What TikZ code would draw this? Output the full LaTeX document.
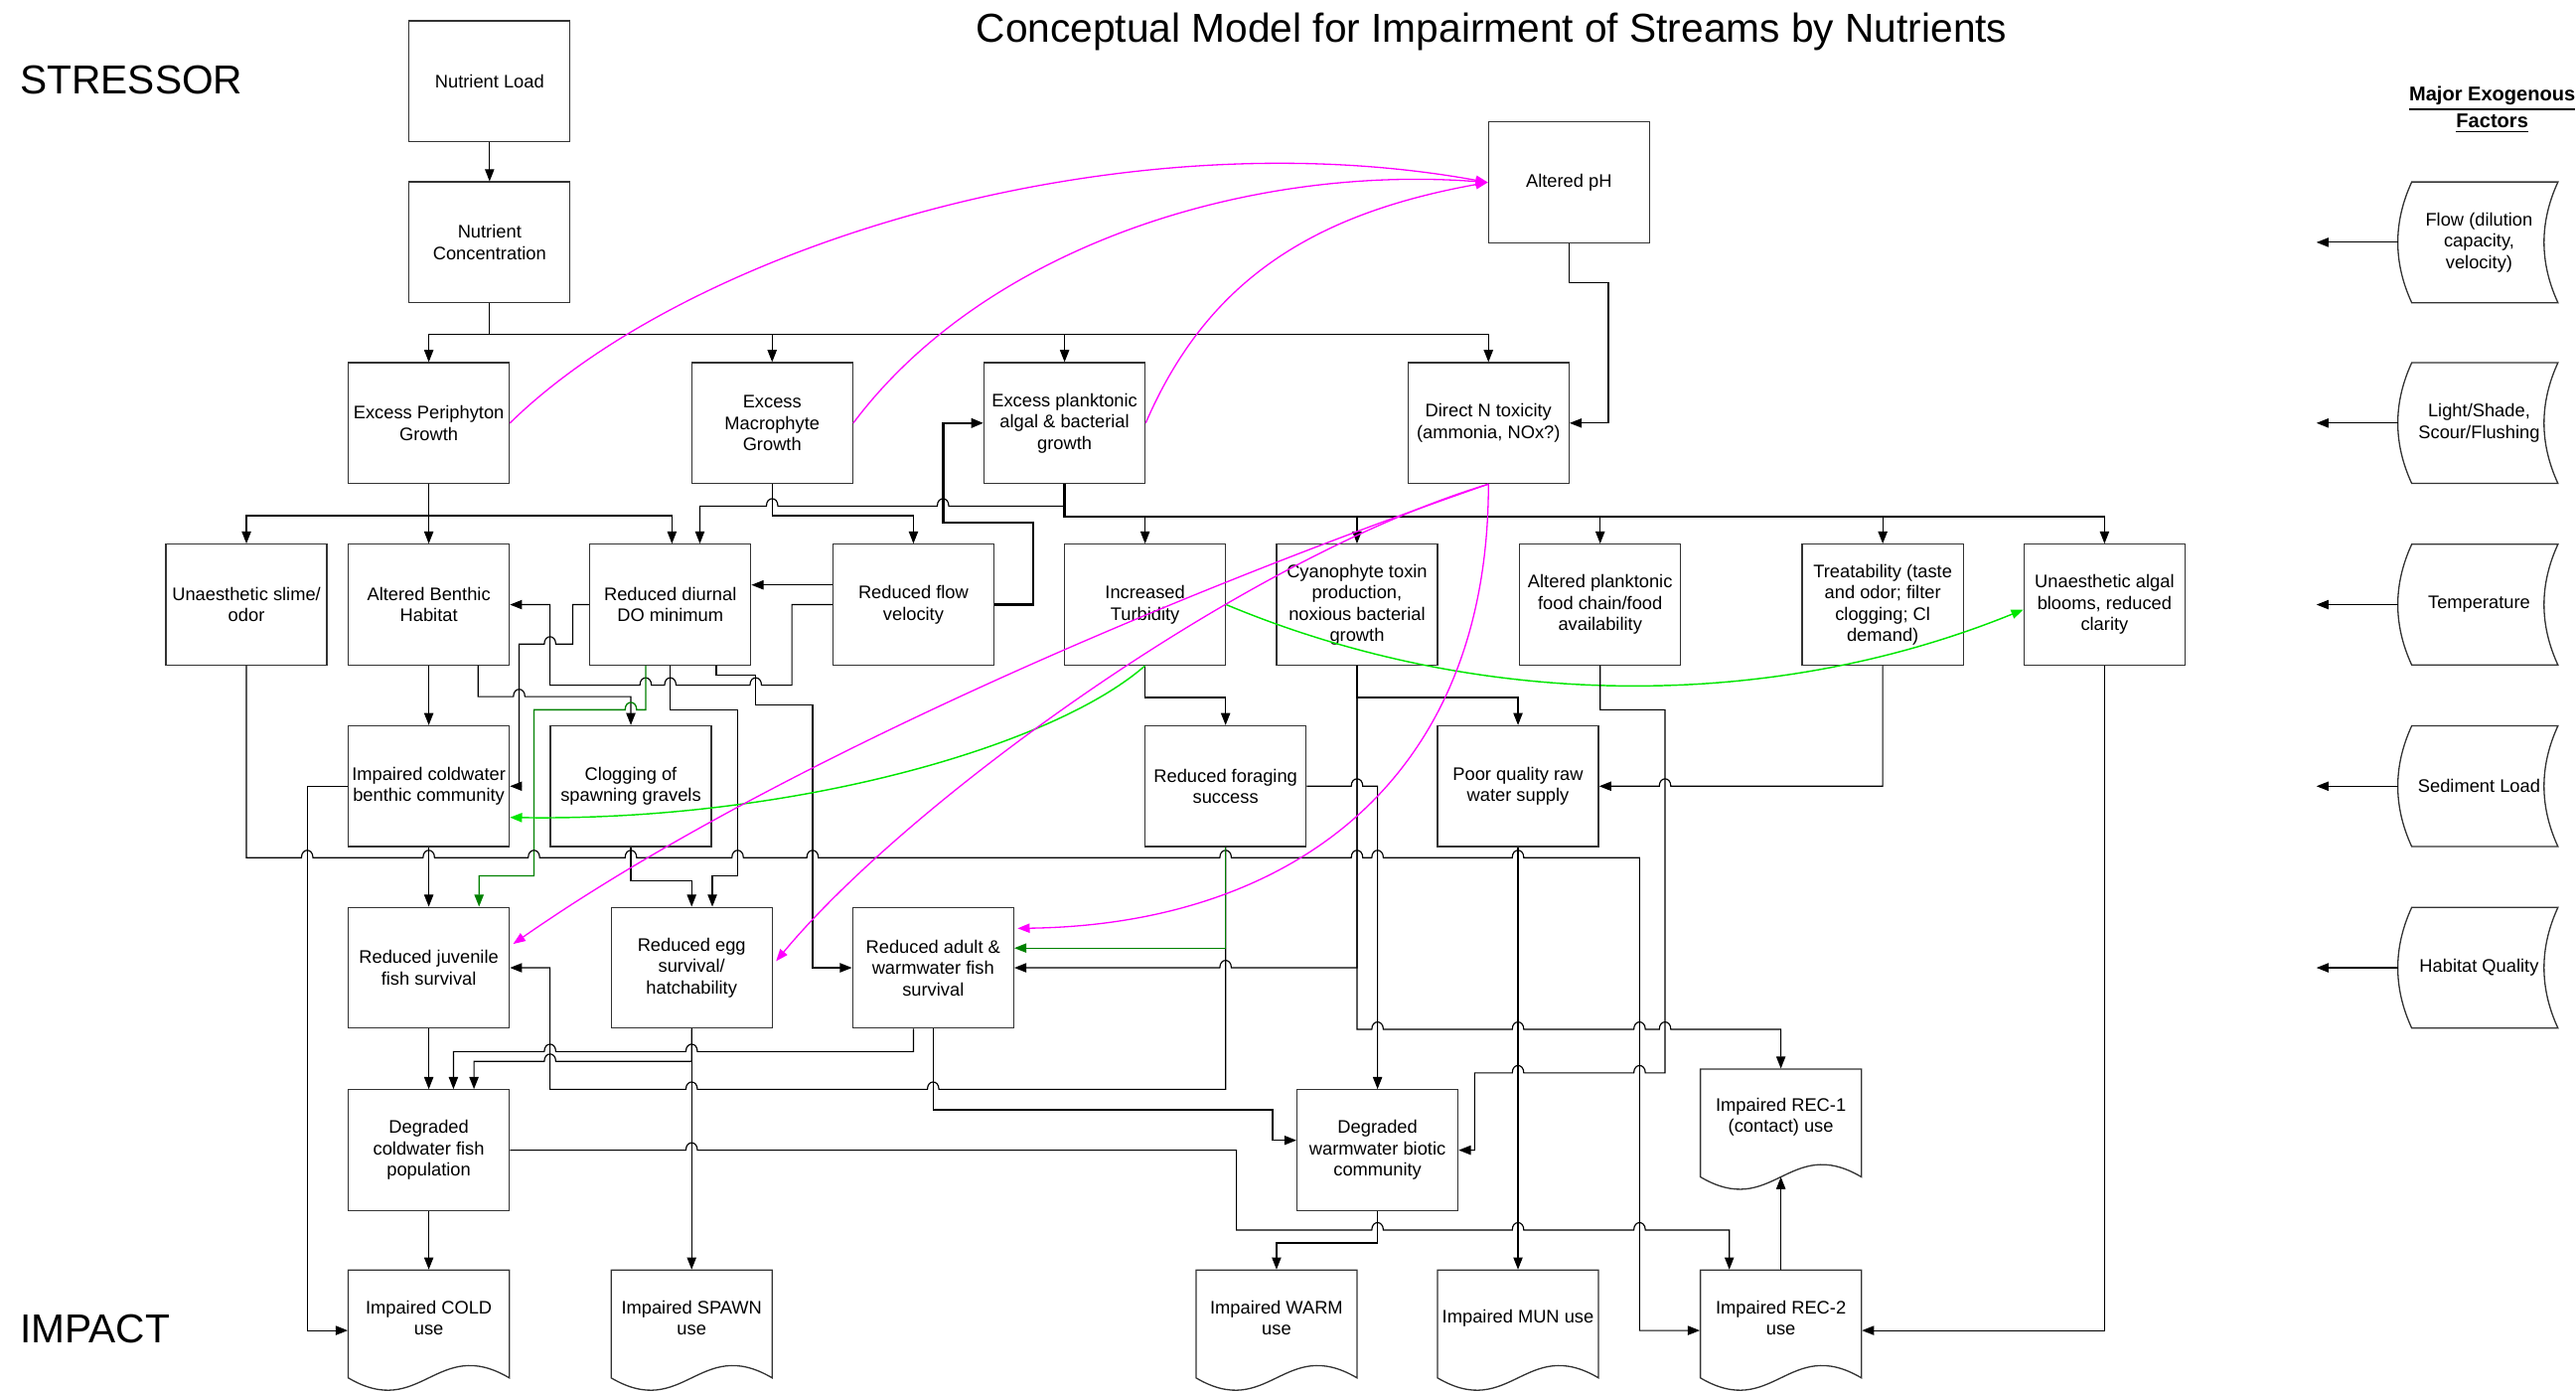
\documentclass[tikz,border=0pt]{standalone}
\usepackage{fontspec}
\setmainfont{Liberation Sans}
\usetikzlibrary{arrows.meta,calc}
\definecolor{mag}{RGB}{255,0,255}
\definecolor{ltg}{RGB}{0,230,0}
\definecolor{dkg}{RGB}{0,128,0}
\newcommand\hopr[2]{-- (#1-3.5,#2) .. controls (#1-3.5,#2-6) and (#1+3.5,#2-6) .. (#1+3.5,#2)}
\newcommand\hopl[2]{-- (#1+3.5,#2) .. controls (#1+3.5,#2-6) and (#1-3.5,#2-6) .. (#1-3.5,#2)}
\tikzset{
 boxsty/.style={draw=black!80, line width=0.45pt, minimum width=1.96cm, minimum height=1.47cm, inner sep=0.3pt, align=center, font=\fontsize{6.3}{7.4}\selectfont},
 docnode/.style={minimum width=1.96cm, minimum height=1.47cm, inner sep=0pt},
 txt/.style={align=center, inner sep=0pt, font=\fontsize{6.3}{7.4}\selectfont},
 shapeline/.style={draw=black!80, line width=0.45pt},
 conn/.style={draw=black, line width=0.4pt},
 arrc/.style={conn, -{Triangle[length=4.2pt,width=3.2pt]}},
 boldc/.style={arrc, line width=0.9pt},
 magc/.style={draw=mag, line width=0.45pt, -{Triangle[length=4.2pt,width=3.2pt]}},
 ltgc/.style={draw=ltg, line width=0.5pt, -{Triangle[length=4.2pt,width=3.2pt]}},
 dkgc/.style={draw=dkg, line width=0.45pt, -{Triangle[length=4.2pt,width=3.2pt]}},
}
% document shape: name, cx, top, text
\newcommand\docshape[4]{%
 \draw[shapeline] (#2-49,#3) -- (#2+49,#3) -- (#2+49,#3+65.6) .. controls (#2+49-44.1,#3+65.6-26) and (#2+49-53.9,#3+65.6+26) .. (#2-49,#3+65.6) -- cycle;
 \node[docnode] (#1) at (#2,#3+36.75) {};
 \node[txt] (#1-t) at (#2,#3+29) {#4};
 \coordinate (#1-b) at (#2,#3+65.6);
}
% exogenous factor: name, cy, text
\newcommand\exofactor[3]{%
 \draw[shapeline] (1468,#2-36.75) -- (1557,#2-36.75) .. controls (1545.7,#2-12.25) and (1545.7,#2+12.25) .. (1557,#2+36.75) -- (1468,#2+36.75) .. controls (1456.7,#2+12.25) and (1456.7,#2-12.25) .. (1468,#2-36.75) -- cycle;
 \node[txt] (#1) at (1509,#2) {#3};
 \coordinate (#1-l) at (1459.5,#2);
 \coordinate (#1-e) at (1410,#2);
 \draw[arrc] (#1-l) -- (#1-e);
}
\begin{document}
\begin{tikzpicture}[x=0.02cm,y=-0.02cm]
\useasboundingbox (0,0) rectangle (1568,847);

% titles
\node[anchor=base, font=\fontsize{14}{16}\selectfont, inner sep=0pt] (title) at (908,26) {Conceptual Model for Impairment of Streams by Nutrients};
\node[anchor=base west, font=\fontsize{14}{16}\selectfont, inner sep=0pt] (stressor) at (12,57) {STRESSOR};
\node[anchor=base west, font=\fontsize{14}{16}\selectfont, inner sep=0pt] (impact) at (12,817.5) {IMPACT};
\node[txt, font=\bfseries\fontsize{6.9}{7.6}\selectfont] (exohead) at (1517,67) {\underline{Major Exogenous}\\\underline{Factors}};

% boxes
\node[boxsty] (nl) at (298,49.5) {Nutrient Load};
\node[boxsty] (nc) at (298,147.5) {Nutrient\\Concentration};
\node[boxsty] (ph) at (955,111) {Altered pH};
\node[boxsty] (peri) at (261,257.5) {Excess Periphyton\\Growth};
\node[boxsty] (macro) at (470,257.5) {Excess\\Macrophyte\\Growth};
\node[boxsty] (plank) at (648,257.5) {Excess planktonic\\algal \& bacterial\\growth};
\node[boxsty] (dirn) at (906,257.5) {Direct N toxicity\\(ammonia, NOx?)};

\node[boxsty] (slime) at (150,368) {Unaesthetic slime/\\odor};
\node[boxsty] (benth) at (261,368) {Altered Benthic\\Habitat};
\node[boxsty] (domin) at (408,368) {Reduced diurnal\\DO minimum};
\node[boxsty] (flowv) at (556,368) {Reduced flow\\velocity};
\node[boxsty] (turb) at (697,368) {Increased\\Turbidity};
\node[boxsty] (cyano) at (826,368) {Cyanophyte toxin\\production,\\noxious bacterial\\growth};
\node[boxsty] (foodc) at (974,368) {Altered planktonic\\food chain/food\\availability};
\node[boxsty] (treat) at (1146,368) {Treatability (taste\\and odor; filter\\clogging; Cl\\demand)};
\node[boxsty] (bloom) at (1281,368) {Unaesthetic algal\\blooms, reduced\\clarity};

\node[boxsty] (icb) at (261,478.5) {Impaired coldwater\\benthic community};
\node[boxsty] (clog) at (384,478.5) {Clogging of\\spawning gravels};
\node[boxsty] (forag) at (746,478.5) {Reduced foraging\\success};
\node[boxsty] (raw) at (924,478.5) {Poor quality raw\\water supply};

\node[boxsty] (juv) at (261,589) {Reduced juvenile\\fish survival};
\node[boxsty] (egg) at (421,589) {Reduced egg\\survival/\\hatchability};
\node[boxsty] (adult) at (568,589) {Reduced adult \&\\warmwater fish\\survival};

\node[boxsty] (dcold) at (261,700) {Degraded\\coldwater fish\\population};
\node[boxsty] (dwarm) at (838.5,700) {Degraded\\warmwater biotic\\community};

\docshape{rec1}{1084}{650.7}{Impaired REC-1\\(contact) use}
\docshape{cold}{261}{773}{Impaired COLD\\use}
\docshape{spawn}{421}{773}{Impaired SPAWN\\use}
\docshape{warm}{777}{773}{Impaired WARM\\use}
\docshape{mun}{924}{773}{Impaired MUN use}
\docshape{rec2}{1084}{773}{Impaired REC-2\\use}

\exofactor{fflow}{147.5}{Flow (dilution\\capacity,\\velocity)}
\exofactor{flight}{257.5}{Light/Shade,\\Scour/Flushing}
\exofactor{ftemp}{368}{Temperature}
\exofactor{fsed}{478.5}{Sediment Load}
\exofactor{fhab}{589}{Habitat Quality}

% ---- connectors ----
\draw[arrc] (nl.south) -- (nc.north);
\foreach \t in {peri,macro,plank,dirn}
  \draw[arrc] (nc.south) |- ($(\t.north)+(0,-17)$) -- (\t.north);
\draw[arrc] (ph.south) -- (955,172) -- (979,172) -- (979,257.5) -- (dirn.east);

\draw[magc] (peri.east) .. controls (420,150) and (680,70) .. (ph.west);
\draw[magc] (macro.east) .. controls (600,150) and (760,100) .. (ph.west);
\draw[magc] (plank.east) .. controls (735,170) and (800,130) .. (ph.west);

\draw[arrc] (peri.south) -- (benth.north);
\draw[arrc] (peri.south) |- ($(slime.north)+(0,-17)$) -- (slime.north);
\draw[arrc] (peri.south) |- ($(domin.north)+(1,-17)$) -- ($(domin.north)+(1,0)$);

\draw[arrc] (plank.south) -- (648,308) \hopl{574}{308} \hopl{470}{308} -- (426,308) -- ($(domin.north)+(18,0)$);
\draw[arrc] (macro.south) |- ($(flowv.north)+(0,-17)$) -- (flowv.north);
\draw[boldc] (flowv.east) -- (629,368) -- (629,318) -- (574,318) -- (574,257.5) -- (plank.west);
\draw[arrc] ($(flowv.west)+(0,-12)$) -- ($(domin.east)+(0,-12)$);
\draw[arrc] (flowv.west) -- (482,368) -- (482,417) \hopl{460}{417} \hopl{408}{417} \hopl{393}{417} -- (334.8,417) -- (334.8,368) -- (benth.east);
\draw[arrc] (domin.west) -- (348.6,368) -- (348.6,392) \hopl{334.8}{392} -- (316,392) -- (316,478.5) -- (icb.east);
\draw[arrc] (benth.south) -- (icb.north);
\draw[arrc] ($(benth.south)+(30,0)$) -- (291,424) \hopr{316}{424} -- (384,424) -- (clog.north);
\draw[dkgc] ($(domin.south)+(-15,0)$) -- (393,432) \hopl{384}{432} -- (325,432) -- (325,533) -- (291.6,533) -- ($(juv.north)+(30.6,0)$);
\draw[arrc] (domin.south) -- (408,432) -- (449,432) -- (449,533) -- (433.6,533) -- ($(egg.north)+(12.6,0)$);
\draw[arrc] (clog.south) -- (384,536) -- (421,536) -- (egg.north);
\draw[arrc] ($(domin.south)+(28,0)$) -- (436,411) -- (460,411) -- (460,429) -- (494.6,429) -- (494.6,589) -- (adult.west);

\draw[arrc] (slime.south) -- (150,522) \hopr{187}{522} \hopr{261}{522} \hopr{325}{522} \hopr{384}{522} \hopr{449}{522} \hopr{494.6}{522} \hopr{746}{522} \hopr{826}{522} \hopr{838.5}{522} \hopr{924}{522} -- (998,522) -- (998,809.75) -- (rec2.west);
\draw[arrc] (icb.west) -- (187,478.5) -- (187,809.75) -- (cold.west);
\draw[arrc] (icb.south) -- (juv.north);

% plankton bus
\draw[line width=0.85pt] (plank.south) -- (648,314.5) -- (1281,314.5);
\foreach \t in {turb,cyano,foodc,treat,bloom}
  \draw[arrc] (plank.south) |- ($(\t.north)+(0,-16.5)$) -- (\t.north);

\draw[arrc] (turb.south) -- (697,424.5) -- (746,424.5) -- (forag.north);
\draw[ltgc] (turb.south) .. controls (640,455) and (480,500) .. ($(icb.east)+(0,19)$);
\draw[ltgc] (turb.east) .. controls (902,433) and (1079,433) .. ($(bloom.west)+(0,3)$);

\draw[arrc] (cyano.south) -- (826,424.5) -- (924,424.5) -- (raw.north);
\draw[arrc] (cyano.south) -- (826,589) \hopl{746}{589} -- (adult.east);
\draw[arrc] (cyano.south) -- (826,626.5) \hopr{838.5}{626.5} \hopr{924}{626.5} \hopr{998}{626.5} \hopr{1013.5}{626.5} -- (1084,626.5) -- (rec1.north);

\draw[arrc] (forag.east) \hopr{826}{478.5} -- (838.5,478.5) -- (dwarm.north);
\draw[arrc] (forag.south) -- (746,663) \hopl{568}{663} \hopl{421}{663} -- (334.8,663) -- (334.8,589) -- (juv.east);
\draw[dkgc] (forag.south) -- (746,577) -- ($(adult.east)+(0,-12)$);

\draw[arrc] ($(adult.south)+(-12,0)$) -- (556,640) \hopl{421}{640} \hopl{334.8}{640} -- (276,640) -- ($(dcold.north)+(15,0)$);
\draw[arrc] (egg.south) -- (421,646) \hopl{334.8}{646} -- (288.5,646) -- ($(dcold.north)+(27.5,0)$);
\draw[arrc] (egg.south) -- (spawn.north);
\draw[arrc] (juv.south) -- (dcold.north);
\draw[arrc] (adult.south) -- (568,675.5) -- (774.6,675.5) -- (774.6,694) -- ($(dwarm.west)+(0,-6)$);
\draw[arrc] (foodc.south) -- (974,432) -- (1013.5,432) -- (1013.5,653) \hopl{998}{653} \hopl{924}{653} -- (897.6,653) -- (897.6,700) -- (dwarm.east);
\draw[arrc] (treat.south) -- (1146,478.5) \hopl{1013.5}{478.5} -- (raw.east);
\draw[arrc] (raw.south) -- (mun.north);
\draw[arrc] (dcold.east) \hopr{421}{700} -- (752.6,700) -- (752.6,748.6) \hopr{838.5}{748.6} \hopr{924}{748.6} \hopr{998}{748.6} -- (1052.6,748.6) -- ($(rec2.north)+(-31.4,0)$);
\draw[arrc] (dwarm.south) -- (838.5,756.5) -- (777,756.5) -- (warm.north);
\draw[arrc] (rec2.north) -- (rec1-b);
\draw[arrc] (bloom.south) -- (1281,809.75) -- (rec2.east);
\draw[arrc] (dcold.south) -- (cold.north);

\draw[magc] (dirn.south) .. controls (706,364) and (462,470) .. ($(juv.east)+(2,-14.5)$);
\draw[magc] (dirn.south) .. controls (756,340) and (552,489) .. ($(egg.east)+(2,-4)$);
\draw[magc] (dirn.south) .. controls (906,480) and (780,563) .. ($(adult.east)+(2,-24)$);
\end{tikzpicture}
\end{document}
